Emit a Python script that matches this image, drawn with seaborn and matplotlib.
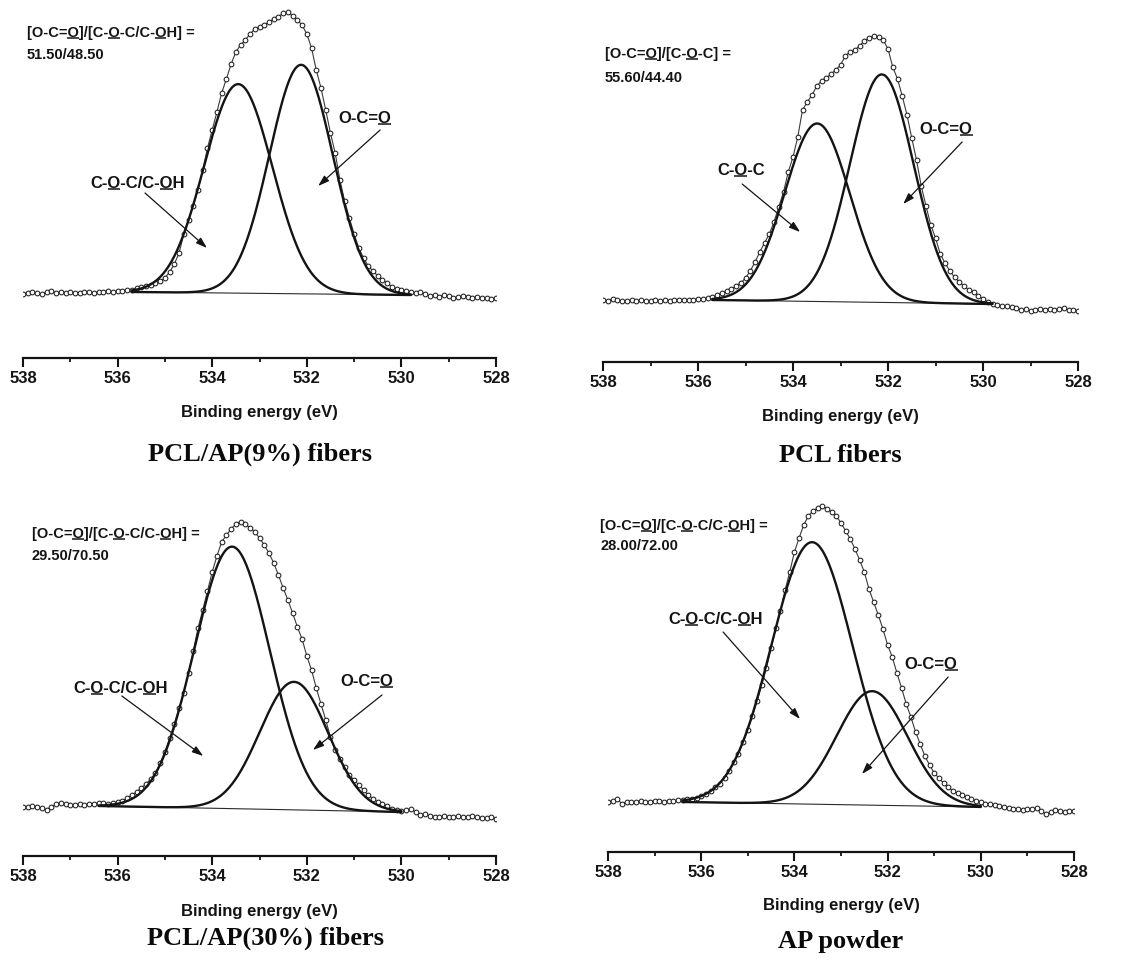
import matplotlib
matplotlib.use("Agg")
import numpy as np
import pandas as pd
import seaborn as sns
import matplotlib.pyplot as plt
from matplotlib.lines import Line2D
from matplotlib.font_manager import FontProperties

# ---------------- data ----------------
energy = np.round(np.arange(538.0, 527.95, -0.1), 1)  # binding energy grid, eV

# O1s raw intensities (a.u.), 538.0 -> 528.0 eV
ap9_counts = [64, 65, 66, 65, 64, 66, 67, 65, 66, 65, 66, 65, 65, 66, 66, 65, 66, 66, 67, 66, 67, 67, 68,
              68, 70, 71, 72, 73, 75, 77, 80, 86, 94,
              105, 124, 138, 152, 168, 188, 210, 228, 246, 265,
              279, 294, 306, 313, 318, 324, 329, 331, 333, 336,
              339, 341, 345, 346, 342, 338, 333, 324, 310, 288,
              270, 248, 225, 205, 178, 157, 140, 124, 110, 100,
              92, 87, 82, 78, 75, 71, 69, 68, 67, 66,
              65, 66, 64, 62, 63, 61, 63, 62, 60, 61,
              62, 61, 60, 61, 60, 60, 59, 60]
pcl_counts = [62, 61, 63, 62, 61, 61, 62, 61, 62, 61, 61, 62, 61, 62, 61, 62, 62, 62, 62, 62, 63, 63, 64,
              65, 67, 69, 71, 73, 76, 79, 84, 91, 100,
              110, 119, 128, 140, 155, 170, 190, 205, 225, 252,
              260, 267, 276, 281, 284, 288, 292, 297, 306, 310,
              312, 316, 321, 324, 326, 325, 322, 313, 295, 283,
              266, 247, 224, 202, 176, 156, 137, 124, 108, 99,
              91, 85, 80, 76, 72, 70, 66, 63, 60, 58,
              57, 56, 56, 55, 54, 52, 53, 51, 52, 53,
              52, 53, 52, 53, 54, 52, 52, 51]
ap30_counts = [49, 49, 50, 49, 48, 46, 49, 52, 53, 52, 51, 51, 52, 51, 52, 52, 53, 53, 52, 53, 54, 55,
               58, 61, 64, 68, 72, 77, 83, 93, 104, 118,
               132, 148, 163, 183, 205, 228, 246, 265, 284, 300,
               314, 321, 327, 332, 334, 332, 328, 324, 318, 311,
               303, 293, 281, 268, 256, 243, 229, 217, 200, 186,
               168, 152, 136, 119, 106, 97, 89, 81, 76, 71,
               66, 61, 57, 54, 52, 50, 47, 46, 45, 46,
               47, 44, 41, 42, 40, 39, 39, 40, 39, 39,
               40, 39, 39, 40, 39, 38, 38, 39, 37]
powder_counts = [50, 51, 53, 48, 50, 50, 50, 51, 50, 50, 51, 51, 50, 51, 51, 52, 52, 53, 53,
                 54, 56, 58, 61, 65, 68, 74, 81, 90, 98,
                 110, 122, 136, 151, 167, 184, 204, 224, 241, 262,
                 280, 300, 314, 327, 336, 341, 344, 346, 343, 340,
                 336, 329, 321, 313, 303, 292, 280, 263, 250, 237,
                 223, 207, 195, 179, 164, 148, 135, 120, 108, 96,
                 87, 79, 74, 69, 65, 61, 59, 57, 55, 53,
                 51, 50, 48, 48, 47, 46, 45, 44, 43, 43,
                 42, 43, 43, 44, 41, 38, 40, 42, 41, 40,
                 41, 41]

# fitted components [C-O-C(/C-OH), O-C=O]: centre (eV), height (a.u.), FWHM (eV)
ap9_centers, ap9_heights, ap9_fwhm = [533.45, 532.12], [209, 229], [1.70, 1.58]
pcl_centers, pcl_heights, pcl_fwhm = [533.49, 532.13], [178, 228], [1.62, 1.58]
ap30_centers, ap30_heights, ap30_fwhm = [533.58, 532.27], [262, 128], [1.88, 1.70]
powder_centers, powder_heights, powder_fwhm = [533.62, 532.33], [262, 114], [2.05, 1.79]

# linear (Shirley-like) background end points: (energy, intensity)
ap9_bg = [(535.7, 66), (529.8, 63)]
pcl_bg = [(535.7, 62), (529.8, 58)]
ap30_bg = [(536.4, 50), (530.0, 44)]
powder_bg = [(536.4, 50), (530.0, 45)]

titles = ["PCL/AP(9%) fibers", "PCL fibers", "PCL/AP(30%) fibers", "AP powder"]
ratio_labels = ["[O-C=O]/[C-O-C/C-OH] =", "[O-C=O]/[C-O-C] =",
                "[O-C=O]/[C-O-C/C-OH] =", "[O-C=O]/[C-O-C/C-OH] ="]
ratio_values = ["51.50/48.50", "55.60/44.40", "29.50/70.50", "28.00/72.00"]
comp_labels = ["C-O-C/C-OH", "C-O-C", "C-O-C/C-OH", "C-O-C/C-OH"]
xticks_major = [538, 536, 534, 532, 530, 528]
xticks_minor = [537, 535, 533, 531, 529]
xlabel_text = "Binding energy (eV)"

# ---------------- style ----------------
sns.set_theme(style="white")
SANS = ["Liberation Sans", "DejaVu Sans"]
SERIF = ["Liberation Serif", "DejaVu Serif"]
plt.rcParams["font.family"] = SANS
INK = "#141414"

W, H = 1140, 962
fig = plt.figure(figsize=(W / 100, H / 100), dpi=100)
fig.patch.set_facecolor("white")
renderer = fig.canvas.get_renderer()

# layout in pixels: x of 538, x of 528, y of axis line, y of axes top
layouts = [(23, 496, 359, 0), (603, 1078, 363, 0), (23, 496, 857, 490), (608, 1074, 853, 490)]
xlabel_off = [54, 53, 55, 53]
title_off = [95, 93, 81, 89]
title_dx = [0, 0, 6, 0]

# annotation placements (data coords)
ratio_pos = [(537.92, 327, 305), (537.96, 310, 286), (537.81, 324, 302), (538.17, 328, 308)]
lab1_pos = [(536.58, 177), (535.60, 194), (536.94, 170), (536.71, 235)]
arr1 = [((535.42, 165), (534.11, 110)), ((535.07, 178), (533.85, 130)),
        ((535.91, 160), (534.19, 100)), ((535.53, 220), (533.88, 133))]
lab2_pos = [(531.34, 242), (531.33, 235), (531.30, 177), (531.63, 190)]
arr2 = [((530.45, 228), (531.76, 172)), ((530.44, 220), (531.68, 158)),
        ((530.41, 161), (531.87, 106)), ((530.70, 175), (532.55, 78))]


def utext(ax, x, yc, s, under, size):
    """Bold sans text (left aligned, cap-centred at yc) with underlined characters."""
    cap = 0.716 * size * fig.dpi / 72.0
    yb = yc - cap / 2.0
    ax.text(x, yb, s, ha="left", va="baseline", fontsize=size, fontweight="bold",
            family=SANS, color=INK, clip_on=False)
    fp = FontProperties(family=SANS, weight="bold", size=size)
    x0, y0 = ax.transData.transform((x, yb))
    w_o = renderer.get_text_width_height_descent("O", fp, ismath=False)[0]
    for i in under:
        w = renderer.get_text_width_height_descent(s[:i + 1], fp, ismath=False)[0]
        xr = x0 + w
        xl = xr - w_o
        yd = y0 - 0.13 * size * fig.dpi / 72.0
        p = fig.transFigure.inverted().transform([(xl, yd), (xr, yd)])
        fig.add_artist(Line2D(p[:, 0], p[:, 1], transform=fig.transFigure,
                              color=INK, lw=1.1, solid_capstyle="butt"))


counts_all = [ap9_counts, pcl_counts, ap30_counts, powder_counts]
centers_all = [ap9_centers, pcl_centers, ap30_centers, powder_centers]
heights_all = [ap9_heights, pcl_heights, ap30_heights, powder_heights]
fwhm_all = [ap9_fwhm, pcl_fwhm, ap30_fwhm, powder_fwhm]
bg_all = [ap9_bg, pcl_bg, ap30_bg, powder_bg]
ratio_under = [[5, 11, 17], [5, 11], [5, 11, 17], [5, 11, 17]]
lab1_under = [[2, 8], [2], [2, 8], [2, 8]]

for k in range(4):
    x538, x528, spine, top = layouts[k]
    ax = fig.add_axes([x538 / W, (H - spine) / H, (x528 - x538) / W, (spine - top) / H])
    ax.set_facecolor("none")
    ax.set_xlim(538, 528)
    ax.set_ylim(0, spine - top)

    # raw data: line + open circles
    df = pd.DataFrame({"E": energy, "I": counts_all[k]})
    sns.lineplot(data=df, x="E", y="I", ax=ax, estimator=None, sort=False,
                 color="#3a3a3a", lw=0.8, marker="o", markersize=3.4,
                 markerfacecolor="white", markeredgecolor="#1e1e1e", markeredgewidth=0.75)

    # background
    (e0, b0), (e1, b1) = bg_all[k]
    bgdf = pd.DataFrame({"E": [e0, e1], "I": [b0, b1]})
    sns.lineplot(data=bgdf, x="E", y="I", ax=ax, estimator=None, sort=False,
                 color="#2a2a2a", lw=0.8)

    # fitted Gaussian components on top of background
    ef = np.linspace(e0, e1, 400)
    base = b0 + (b1 - b0) * (ef - e0) / (e1 - e0)
    for c, h, fw in zip(centers_all[k], heights_all[k], fwhm_all[k]):
        sig = fw / 2.3548
        comp = base + h * np.exp(-0.5 * ((ef - c) / sig) ** 2)
        sns.lineplot(x=ef, y=comp, ax=ax, estimator=None, sort=False, color=INK, lw=1.7)

    # axes styling: only the bottom axis
    for side in ["left", "right", "top"]:
        ax.spines[side].set_visible(False)
    ax.spines["bottom"].set_color(INK)
    ax.spines["bottom"].set_linewidth(1.6)
    ax.set_yticks([])
    ax.set_xticks(xticks_major)
    ax.set_xticks(xticks_minor, minor=True)
    ax.set_xticklabels([str(v) for v in xticks_major])
    ax.tick_params(axis="x", which="major", direction="out", length=6.3, width=1.5,
                   color=INK, pad=2, labelsize=12, labelcolor=INK, bottom=True)
    ax.tick_params(axis="x", which="minor", direction="out", length=3.2, width=1.3,
                   color=INK, bottom=True)
    for lab in ax.get_xticklabels():
        lab.set_fontweight("bold")
        lab.set_family(SANS)
    ax.set_xlabel("")
    ax.set_ylabel("")
    ax.grid(False)

    ax.annotate(xlabel_text, xy=(0.5, 0), xycoords="axes fraction",
                xytext=(0, -xlabel_off[k] * 0.72), textcoords="offset points",
                ha="center", va="center", fontsize=12, fontweight="bold",
                family=SANS, color=INK)
    ax.annotate(titles[k], xy=(0.5, 0), xycoords="axes fraction",
                xytext=(title_dx[k] * 0.72, -title_off[k] * 0.72), textcoords="offset points",
                ha="center", va="center", fontsize=19, fontweight="bold",
                family=SERIF, color="#0a0a0a")

    # ratio text
    rx, ry1, ry2 = ratio_pos[k]
    utext(ax, rx, ry1, ratio_labels[k], ratio_under[k], 10.5)
    utext(ax, rx, ry2, ratio_values[k], [], 10.5)

    # component labels + arrows
    utext(ax, lab1_pos[k][0], lab1_pos[k][1], comp_labels[k], lab1_under[k], 12)
    utext(ax, lab2_pos[k][0], lab2_pos[k][1], "O-C=O", [4], 12)
    for (tail, head) in (arr1[k], arr2[k]):
        ax.annotate("", xy=head, xytext=tail, xycoords="data", textcoords="data",
                    arrowprops=dict(arrowstyle="-|>,head_length=0.55,head_width=0.18",
                                    color=INK, lw=0.9, shrinkA=0, shrinkB=0,
                                    mutation_scale=12))

fig.savefig("out.png", dpi=100, facecolor="white")
